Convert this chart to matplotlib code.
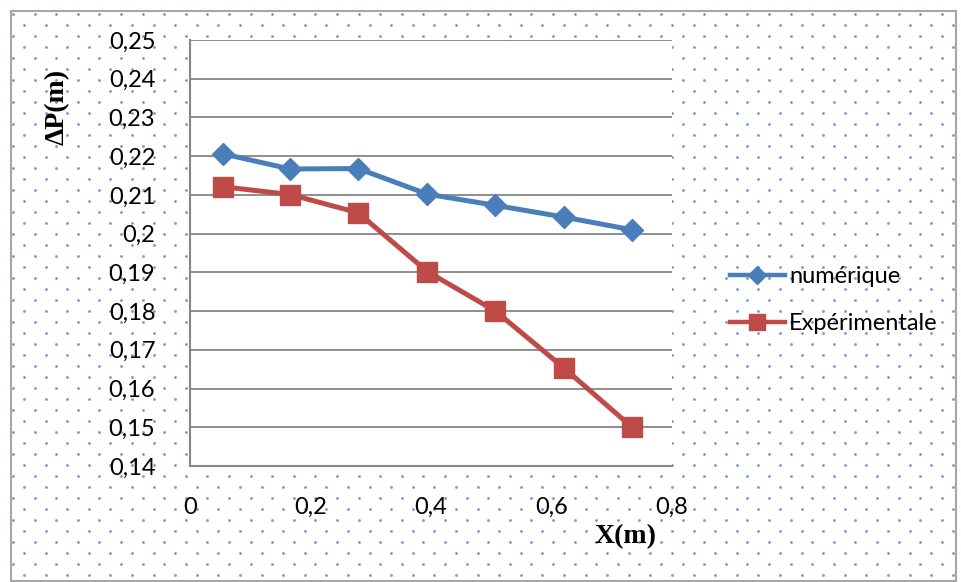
import numpy as np
import matplotlib
matplotlib.use("Agg")
import matplotlib.pyplot as plt

# data
x_m = [0.055, 0.166, 0.279, 0.394, 0.507, 0.620, 0.733]
num_dp = [0.2206, 0.2167, 0.2168, 0.2102, 0.2073, 0.2043, 0.2010]
exp_dp = [0.2121, 0.2101, 0.2054, 0.1902, 0.1800, 0.1654, 0.1501]
y_ticks = [0.14, 0.15, 0.16, 0.17, 0.18, 0.19, 0.20, 0.21, 0.22, 0.23, 0.24, 0.25]
x_ticks = [0, 0.2, 0.4, 0.6, 0.8]

blue = "#4a7ebb"
red = "#be4b48"
grid_c = "#868686"

W, H = 962, 582
fig = plt.figure(figsize=(W / 100, H / 100), dpi=100)

# dotted chart-area background + grey border
bg = fig.add_axes([0, 0, 1, 1], zorder=0)
bg.set_xlim(0, W); bg.set_ylim(H, 0); bg.axis("off")
xs, ys = [], []
for i, yy in enumerate(np.arange(14, H - 4, 11.0)):
    off = 13 if i % 2 == 0 else 24
    for xx in np.arange(off, W - 6, 21.6):
        xs.append(xx); ys.append(yy)
bg.scatter(xs, ys, s=4, color="#6f98d2", linewidths=0)
bg.add_patch(plt.Rectangle((11, 11), W - 17, H - 12, fill=False,
                           edgecolor="#a6a6a6", lw=1.5))

ax = fig.add_axes([190 / W, 1 - 466 / H, (672 - 190) / W, (466 - 40) / H], zorder=2)
ax.set_facecolor("white")
ax.plot(x_m, num_dp, color=blue, lw=3.6, marker="D", ms=11,
        label="numérique", zorder=4)
ax.plot(x_m, exp_dp, color=red, lw=3.6, marker="s", ms=14,
        label="Expérimentale", zorder=3)

ax.set_xlim(0, 0.8)
ax.set_ylim(0.14, 0.25)
ax.set_yticks(y_ticks)
ax.set_xticks(x_ticks)
fmt = lambda v: f"{v:g}".replace(".", ",")
ax.set_yticklabels([fmt(v) for v in y_ticks], fontfamily="Lato", fontsize=17)
ax.set_xticklabels([fmt(v) for v in x_ticks], fontfamily="Lato", fontsize=17)
ax.tick_params(length=0, pad=25)
ax.tick_params(axis="x", pad=22)
ax.yaxis.grid(True, color=grid_c, lw=1.3)
ax.set_axisbelow(True)
for s in ["top", "right"]:
    ax.spines[s].set_visible(False)
for s in ["left", "bottom"]:
    ax.spines[s].set_color(grid_c)
    ax.spines[s].set_linewidth(1.5)

fig.text(57 / W, 1 - 107 / H, "ΔP(m)", rotation=90, ha="center", va="center",
         fontfamily="Liberation Serif", fontweight="bold", fontsize=20)
fig.text(626 / W, 1 - 537 / H, "X(m)", ha="center", va="center",
         fontfamily="Liberation Serif", fontweight="bold", fontsize=20)

leg = fig.legend(loc="center left", bbox_to_anchor=(709 / W, 1 - 300 / H),
                 frameon=False, prop={"family": "Lato", "size": 17},
                 handlelength=2.3, handletextpad=0.2, labelspacing=1.1,
                 markerscale=0.85)
for ln in leg.get_lines():
    ln.set_linewidth(3.2)

fig.savefig("out.png", dpi=100)
